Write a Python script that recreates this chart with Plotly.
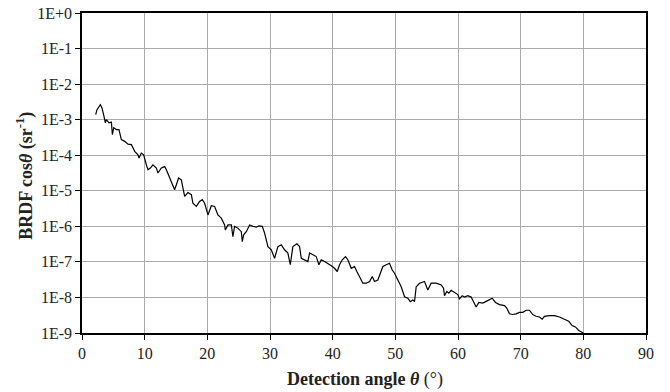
import plotly.graph_objects as go

# Detection angle (deg)
angles = [2.19, 2.39, 2.93, 3.19, 3.51, 3.73, 3.89, 4.31, 4.69, 4.85,
          5.06, 5.49, 5.90, 6.28, 6.81, 7.34, 7.88, 8.41, 8.93, 9.09,
          9.47, 9.84, 10.27, 10.53, 10.91, 11.32, 11.87, 12.12, 12.66, 13.19,
          13.46, 13.99, 14.51, 14.78, 15.06, 15.42, 15.85, 16.38, 16.91, 17.45,
          17.70, 18.25, 18.77, 19.20, 19.57, 20.10, 20.64, 21.16, 21.69, 22.23,
          22.76, 22.87, 23.29, 23.83, 24.08, 24.35, 24.88, 25.42, 25.58, 25.79,
          26.22, 26.75, 27.27, 27.81, 28.23, 28.77, 29.14, 29.67, 30.21, 30.73,
          31.26, 31.80, 32.33, 32.85, 33.24, 33.65, 34.29, 34.72, 34.99, 35.52,
          36.04, 36.32, 36.84, 37.38, 37.80, 38.18, 38.71, 39.23, 39.78, 40.30,
          40.73, 41.10, 41.53, 42.05, 42.42, 42.97, 43.49, 43.86, 44.29, 44.82,
          45.36, 45.89, 46.32, 46.68, 47.21, 47.59, 48.01, 48.55, 49.07, 49.51,
          49.87, 50.40, 50.94, 51.47, 51.99, 52.38, 52.79, 53.06, 53.33, 53.86,
          54.66, 55.18, 55.72, 56.52, 57.32, 57.69, 57.85, 58.21, 58.53, 58.91,
          59.44, 59.97, 60.24, 60.67, 61.04, 61.56, 62.10, 62.63, 62.90, 63.32,
          63.96, 64.50, 65.02, 65.45, 65.98, 66.62, 67.42, 67.78, 68.21, 68.74,
          69.28, 69.81, 70.34, 70.88, 71.40, 71.93, 72.47, 73.00, 73.43, 73.80,
          74.59, 75.39, 76.19, 76.99, 77.67, 78.21, 78.74, 79.27, 79.81, 80.0]

# BRDF cos(theta), read as log10 values (sr^-1)
brdf_log10 = [-2.86, -2.72, -2.58, -2.67, -2.91, -3.09, -3.00, -3.09, -3.07, -3.42,
              -3.23, -3.28, -3.28, -3.56, -3.61, -3.69, -3.70, -3.89, -3.99, -4.08,
              -3.94, -3.99, -4.27, -4.41, -4.36, -4.27, -4.36, -4.50, -4.36, -4.32,
              -4.41, -4.64, -4.83, -4.97, -4.83, -4.64, -4.69, -5.16, -5.05, -5.11,
              -5.35, -5.44, -5.30, -5.25, -5.35, -5.68, -5.42, -5.44, -5.68, -5.77,
              -5.96, -6.10, -5.96, -5.96, -6.29, -6.00, -6.05, -6.15, -6.43, -6.24,
              -6.15, -5.96, -6.00, -6.02, -5.99, -6.00, -6.19, -6.57, -6.66, -6.90,
              -6.57, -6.52, -6.66, -6.75, -7.08, -6.57, -6.49, -6.57, -6.90, -6.94,
              -6.99, -6.75, -6.80, -6.85, -7.08, -6.94, -6.99, -7.04, -7.11, -7.18,
              -7.27, -7.08, -6.94, -6.85, -6.94, -7.18, -7.13, -7.27, -7.41, -7.60,
              -7.60, -7.55, -7.41, -7.55, -7.51, -7.32, -7.13, -7.08, -7.04, -7.23,
              -7.32, -7.51, -7.70, -7.98, -8.02, -8.12, -8.07, -8.12, -7.70, -7.60,
              -7.55, -7.79, -7.60, -7.60, -7.65, -7.74, -7.95, -7.83, -7.88, -7.80,
              -7.85, -7.92, -8.04, -7.95, -7.99, -7.95, -7.99, -8.16, -8.27, -8.14,
              -8.16, -8.11, -8.06, -8.02, -8.14, -8.20, -8.23, -8.30, -8.46, -8.48,
              -8.46, -8.42, -8.42, -8.36, -8.36, -8.48, -8.53, -8.55, -8.61, -8.53,
              -8.51, -8.51, -8.55, -8.61, -8.67, -8.79, -8.83, -8.93, -8.98, -9.00]

y_tick_vals = [1e0, 1e-1, 1e-2, 1e-3, 1e-4, 1e-5, 1e-6, 1e-7, 1e-8, 1e-9]
y_tick_text = ["1E+0", "1E-1", "1E-2", "1E-3", "1E-4", "1E-5", "1E-6", "1E-7", "1E-8", "1E-9"]
x_tick_vals = [0, 10, 20, 30, 40, 50, 60, 70, 80, 90]

brdf = [10 ** v for v in brdf_log10]

FONT = "Liberation Serif, Times New Roman, serif"
TXT = "#222222"

fig = go.Figure()
fig.add_trace(go.Scatter(x=angles, y=brdf, mode="lines",
                         line=dict(color="black", width=1.2), showlegend=False))

fig.update_layout(
    width=670, height=392,
    margin=dict(l=82, r=24, t=13, b=59, autoexpand=False),
    paper_bgcolor="white", plot_bgcolor="white",
    font=dict(family=FONT, size=16, color=TXT),
    xaxis=dict(range=[0, 90], tickvals=x_tick_vals, showgrid=True,
               gridcolor="#ababab", gridwidth=1.3, showline=True,
               linecolor="black", linewidth=1.5, mirror=True,
               ticks="outside", ticklen=5, tickcolor="black", tickwidth=1,
               zeroline=False, automargin=False,
               tickfont=dict(family=FONT, size=16, color=TXT)),
    yaxis=dict(type="log", range=[-9, 0], tickvals=y_tick_vals,
               ticktext=y_tick_text, showgrid=True, gridcolor="#ababab",
               gridwidth=1.3, showline=True, linecolor="black", linewidth=1.5,
               mirror=True, ticks="outside", ticklen=5, tickcolor="black",
               tickwidth=1, zeroline=False, automargin=False,
               tickfont=dict(family=FONT, size=16, color=TXT)),
    annotations=[
        dict(text="<b>BRDF cos<i>θ</i> (sr<sup>-1</sup>)</b>", xref="paper", yref="paper",
             x=-0.1, y=0.49, xanchor="center", yanchor="middle", textangle=-90,
             showarrow=False, font=dict(family=FONT, size=18, color=TXT)),
        dict(text="<b>Detection angle <i>θ</i></b> (°)", xref="paper", yref="paper",
             x=0.502, y=-0.145, xanchor="center", yanchor="middle",
             showarrow=False, font=dict(family=FONT, size=18, color=TXT)),
    ],
)

fig.write_html("out.html", config={"displayModeBar": False},
               post_script="document.body.style.margin='0';document.body.style.overflow='hidden';")
